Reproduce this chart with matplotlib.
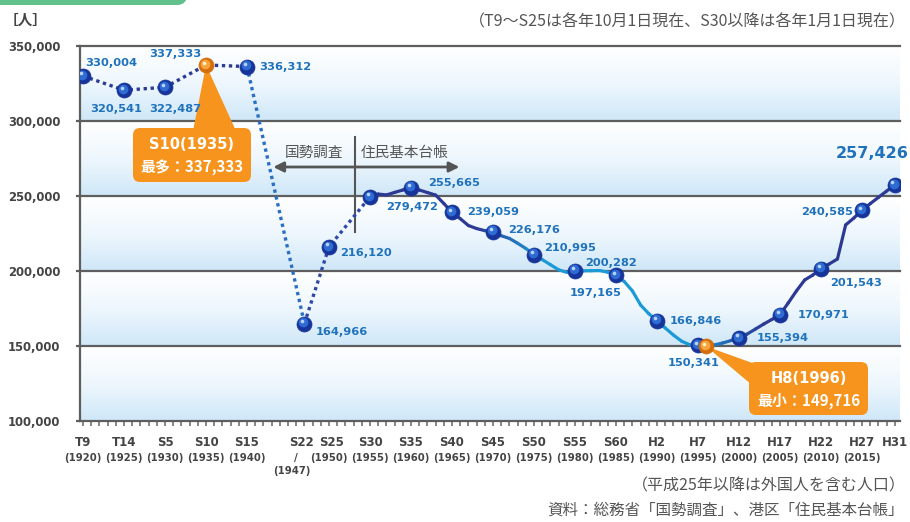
import numpy as np
import matplotlib
matplotlib.use("Agg")
import matplotlib.pyplot as plt
from matplotlib.collections import LineCollection
from matplotlib.colors import LinearSegmentedColormap, to_rgb
from matplotlib.patches import FancyBboxPatch, Polygon
from matplotlib.transforms import offset_copy, blended_transform_factory

JP = ["Noto Sans CJK JP", "DejaVu Sans"]

# 国勢調査 (1 Oct of each year)
census_years = [1920, 1925, 1930, 1935, 1940, 1947, 1950]
census_pop = [330004, 320541, 322487, 337333, 336312, 164966, 216120]

reg_years = list(range(1955, 2020))
reg_pop = [
    249472, 251300, 250700, 252400, 254000,   # 1955-1959
    255665, 254000, 252300, 250600, 245000,   # 1960-1964
    239059, 234900, 230300, 228300, 226900,   # 1965-1969
    226176, 223500, 221700, 218500, 215000,   # 1970-1974
    210995, 207600, 204200, 200800, 199100,   # 1975-1979
    200282, 200100, 200200, 200300, 199200,   # 1980-1984
    197165, 193000, 186700, 177300, 171500,   # 1985-1989
    166846, 162000, 157300, 153200, 150800,   # 1990-1994
    150341, 149716, 150700, 152000, 153600,   # 1995-1999
    155394, 158000, 161300, 164600, 167700,   # 2000-2004
    170971, 178700, 186700, 194000, 197300,   # 2005-2009
    201543, 204700, 208000, 230700, 235300,   # 2010-2014
    240585, 244900, 249100, 253300, 257426,   # 2015-2019
]

marker_years = [1920, 1925, 1930, 1940, 1947, 1950, 1955, 1960, 1965, 1970,
                1975, 1980, 1985, 1990, 1995, 2000, 2005, 2010, 2015, 2019]
peak_year, peak_pop = 1935, 337333
low_year, low_pop = 1996, 149716

# value labels as printed on the chart
point_labels = {
    1920: "330,004", 1925: "320,541", 1930: "322,487", 1935: "337,333",
    1940: "336,312", 1947: "164,966", 1950: "216,120", 1955: "279,472",
    1960: "255,665", 1965: "239,059", 1970: "226,176", 1975: "210,995",
    1980: "200,282", 1985: "197,165", 1990: "166,846", 1995: "150,341",
    2000: "155,394", 2005: "170,971", 2010: "201,543", 2015: "240,585",
    2019: "257,426",
}

tick_years = [1920, 1925, 1930, 1935, 1940, 1947, 1950, 1955, 1960, 1965, 1970,
              1975, 1980, 1985, 1990, 1995, 2000, 2005, 2010, 2015, 2019]
tick_era = ["T9", "T14", "S5", "S10", "S15", "S22", "S25", "S30", "S35", "S40", "S45",
            "S50", "S55", "S60", "H2", "H7", "H12", "H17", "H22", "H27", "H31"]
tick_west = ["(1920)", "(1925)", "(1930)", "(1935)", "(1940)", "(1947)", "(1950)",
             "(1955)", "(1960)", "(1965)", "(1970)", "(1975)", "(1980)", "(1985)",
             "(1990)", "(1995)", "(2000)", "(2005)", "(2010)", "(2015)", ""]

pop = dict(zip(census_years, census_pop))
pop.update(zip(reg_years, reg_pop))

NAVY = "#2d3a94"
CYAN = "#1b9ad6"
LABEL_BLUE = "#1f72bb"
GRAY = "#555555"
GRID = "#5e5e5e"
ORANGE = "#f7941d"

fig = plt.figure(figsize=(9.1, 5.22), dpi=100)
ax = fig.add_axes([80 / 910, 101 / 522, 820 / 910, 375 / 522])
XL = (1919.63, 2019.63)

# banded gradient background
band_cmap = LinearSegmentedColormap.from_list("band", ["#cfe7f8", "#eef7fd", "#ffffff"])
grad = np.linspace(0, 1, 256).reshape(-1, 1)
for y0 in range(100000, 350000, 50000):
    ax.imshow(grad, extent=[XL[0], XL[1], y0, y0 + 50000], origin="lower",
              aspect="auto", cmap=band_cmap, zorder=0, interpolation="bicubic")
ax.set_xlim(*XL)
ax.set_ylim(100000, 350000)

for y in range(150000, 350001, 50000):
    ax.axhline(y, color=GRID, lw=1.6, zorder=1, clip_on=False)

for side in ["top", "right"]:
    ax.spines[side].set_visible(False)
for side in ["left", "bottom"]:
    ax.spines[side].set_color(GRID)
    ax.spines[side].set_linewidth(1.6)

ax.set_yticks(range(100000, 350001, 50000))
ax.set_yticklabels([f"{v:,}" for v in range(100000, 350001, 50000)],
                   fontsize=8.4, fontweight="bold", color="#444444")
ax.tick_params(axis="y", length=3, width=1.6, color=GRID, pad=11)
ax.set_xticks([])
ax.set_xticks(range(1920, 2020), minor=True)
ax.tick_params(axis="x", which="minor", length=3.5, width=1.1, color="#666666",
               direction="out")

# dotted census part
ax.plot(census_years[:5], census_pop[:5], color=NAVY, lw=2.4,
        ls=(0, (1, 1.1)), zorder=3)
ax.plot(census_years[4:6], census_pop[4:6], color="#2a6fc2", lw=2.4,
        ls=(0, (1, 1.1)), zorder=3)
ax.plot([1947, 1950, 1955], [164966, 216120, 249472], color="#2e4aa6", lw=2.4,
        ls=(0, (1, 1.1)), zorder=3)

# solid registry part with colour gradient
stops = [(1955, NAVY), (1968, NAVY), (1976, CYAN), (1994, CYAN), (2003, NAVY), (2019, NAVY)]
sy = np.array([s[0] for s in stops], dtype=float)
sc = np.array([to_rgb(s[1]) for s in stops])
pts = np.column_stack([reg_years, reg_pop]).astype(float)
segs = np.stack([pts[:-1], pts[1:]], axis=1)
mids = (pts[:-1, 0] + pts[1:, 0]) / 2
cols = np.column_stack([np.interp(mids, sy, sc[:, k]) for k in range(3)])
lc = LineCollection(segs, colors=cols, linewidths=2.3, capstyle="round",
                    joinstyle="round", zorder=3)
ax.add_collection(lc)


def ball(xs, ys, base, mid, hi, z=5):
    ax.plot(xs, ys, "o", ms=10.8, color=base, mec=base, mew=0.5, zorder=z, ls="none")
    t1 = offset_copy(ax.transData, fig=fig, x=-0.9, y=0.9, units="points")
    ax.plot(xs, ys, "o", ms=7.0, color=mid, mec="none", zorder=z + 0.1, ls="none", transform=t1)
    t2 = offset_copy(ax.transData, fig=fig, x=-1.8, y=1.8, units="points")
    ax.plot(xs, ys, "o", ms=2.6, color=hi, mec="none", zorder=z + 0.2, ls="none", transform=t2)


ball(marker_years, [pop[y] for y in marker_years], "#16349a", "#2e6bd2", "#b8d3f4")
ball([peak_year, low_year], [peak_pop, low_pop], "#d46e0a", "#f7a43e", "#fff0c8", z=6)

# label placement: (dx px, dy px, ha)
label_pos = {
    1920: (2, 13, "left"), 1925: (-8, -19, "center"), 1930: (10, -22, "center"),
    1935: (-31, 11, "center"), 1940: (12, 0, "left"), 1947: (11, -8, "left"),
    1950: (11, -6, "left"), 1955: (42, -10, "center"), 1960: (17, 5, "left"),
    1965: (15, 0, "left"), 1970: (15, 2, "left"), 1975: (10, 7, "left"),
    1980: (10, 8, "left"), 1985: (-20, -18, "center"), 1990: (13, 0, "left"),
    1995: (-4, -18, "center"), 2000: (18, 0, "left"), 2005: (18, 0, "left"),
    2010: (9, -14, "left"), 2015: (-9, -2, "right"), 2019: (14, 31, "right"),
}
for yr, txt in point_labels.items():
    dx, dy, ha = label_pos[yr]
    big = yr == 2019
    ax.annotate(txt, (yr, pop[yr]), xytext=(dx, dy), textcoords="offset pixels",
                ha=ha, va="center", color=LABEL_BLUE, fontweight="bold",
                fontsize=11.5 if big else 8.2, zorder=8, annotation_clip=False)

# x tick labels (era / western year)
xt = blended_transform_factory(ax.transData, fig.transFigure)
for yr, era, west in zip(tick_years, tick_era, tick_west):
    shift = {1947: -0.4, 1950: 0.3}.get(yr, 0)
    ax.text(yr + shift, (522 - 442) / 522, era, transform=xt, ha="center", va="center",
            fontsize=8.5, fontweight="bold", color="#444444")
    if yr == 1947:
        ax.text(yr - 1, (522 - 458) / 522, "/", transform=xt, ha="center", va="center",
                fontsize=7.5, fontweight="bold", color="#444444")
        ax.text(yr - 1.5, (522 - 471) / 522, west, transform=xt, ha="center", va="center",
                fontsize=7.3, fontweight="bold", color="#444444")
    else:
        ax.text(yr, (522 - 458) / 522, west, transform=xt, ha="center", va="center",
                fontsize=7.3, fontweight="bold", color="#444444")

# data source divider: 国勢調査 <- | -> 住民基本台帳
div_x, arr_y = 1953.2, 269333
ax.plot([div_x, div_x], [289333, 226000], color=GRAY, lw=1.5, zorder=2)
for end in (1943.2, 1965.9):
    ax.annotate("", xy=(end, arr_y), xytext=(div_x, arr_y),
                arrowprops=dict(arrowstyle="-|>", color=GRAY, lw=2.0, mutation_scale=15,
                                shrinkA=0, shrinkB=0), zorder=2)
ax.text(1948.2, 278667, "国勢調査", ha="center", va="center", fontsize=10.5,
        color=GRAY, family=JP, zorder=2)
ax.text(1959.2, 278667, "住民基本台帳", ha="center", va="center", fontsize=10.5,
        color=GRAY, family=JP, zorder=2)

# callouts for max / min
inch = fig.dpi_scale_trans


def callout(box_px, base_px, tip_data, line1, line2):
    left, top, right, bottom = box_px
    box = FancyBboxPatch((left / 100, (522 - bottom) / 100), (right - left) / 100,
                         (bottom - top) / 100, boxstyle="round,pad=0,rounding_size=0.07",
                         transform=inch, fc=ORANGE, ec="none", zorder=4, clip_on=False)
    ax.add_patch(box)
    tip = ax.transData.transform(tip_data) / fig.dpi
    tri = [tip] + [(x / 100, (522 - y) / 100) for x, y in base_px]
    ax.add_patch(Polygon(tri, closed=True, transform=inch, fc=ORANGE, ec="none",
                         zorder=4, clip_on=False))
    cx = (left + right) / 2
    h = bottom - top
    ax.text(cx / 100, (522 - top - h * 0.31) / 100, line1, transform=inch, ha="center",
            va="center", color="white", fontsize=10.5, fontweight="bold", zorder=4.5)
    ax.text(cx / 100, (522 - top - h * 0.74) / 100, line2, transform=inch, ha="center",
            va="center", color="white", fontsize=10.8, fontweight="bold", family=JP,
            zorder=4.5)


callout((133, 128, 251, 182), [(193, 131), (236, 131)], (peak_year, peak_pop),
        "S10(1935)", "最多：337,333")
callout((749, 362, 868, 415), [(758, 365), (752, 385)], (low_year, low_pop),
        "H8(1996)", "最小：149,716")

# header tab and notes
fig.patches.append(FancyBboxPatch((-0.3, 5.17), 2.17, 0.4,
                                  boxstyle="round,pad=0,rounding_size=0.1",
                                  transform=inch, fc="#62c18b", ec="none"))
fig.text(4 / 910, (522 - 20) / 522, "［人］", ha="left", va="center", fontsize=10.5,
         fontweight="bold", color="#444444", family=JP)
fig.text(906 / 910, (522 - 22) / 522, "（T9～S25は各年10月1日現在、S30以降は各年1月1日現在）",
         ha="right", va="center", fontsize=11.5, color=GRAY, family=JP)
fig.text(906 / 910, (522 - 486) / 522, "（平成25年以降は外国人を含む人口）",
         ha="right", va="center", fontsize=11.5, color=GRAY, family=JP)
fig.text(904 / 910, (522 - 510) / 522, "資料：総務省「国勢調査」、港区「住民基本台帳」",
         ha="right", va="center", fontsize=11.2, color=GRAY, family=JP)

fig.savefig("out.png", dpi=100)
